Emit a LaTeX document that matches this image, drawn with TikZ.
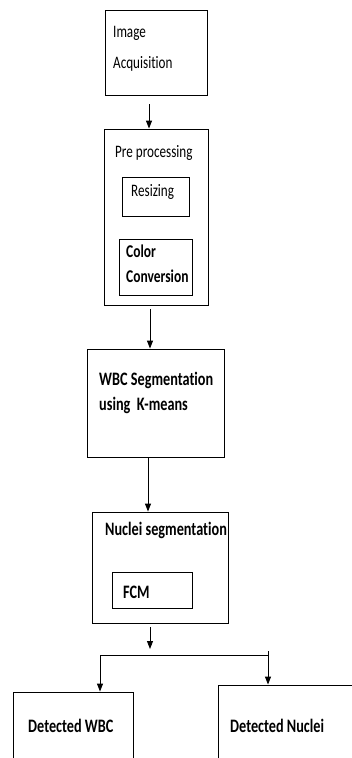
\documentclass[tikz,border=0pt]{standalone}
\usepackage{fontspec}
\setmainfont{Carlito}[FakeStretch=0.75, Ligatures=NoCommon]
\usetikzlibrary{arrows.meta}
\tikzset{
  box/.style={draw=black, line width=0.9pt, inner sep=0pt},
  lbl/.style={anchor=base west, inner sep=0pt},
  arr/.style={line width=0.9pt, -{Triangle[length=8pt,width=6pt]}},
  ln/.style={line width=0.9pt}
}
\newcommand{\rbox}[5]{\node[box, minimum width={#4-#2}, minimum height={#5-#3}] (#1) at ({(#2+#4)/2},{(#3+#5)/2}) {};}
\begin{document}
\begin{tikzpicture}[x=1pt,y=-1pt]
\useasboundingbox (0,0) rectangle (352,758);
\clip (0,0) rectangle (352,758);
% boxes
\rbox{acq}{105}{10}{207}{95}
\rbox{pre}{104}{129}{208}{305}
\rbox{res}{122}{177}{189}{216}
\rbox{col}{119}{239}{192}{295}
\rbox{wbc}{87}{349}{224}{457}
\rbox{nuc}{92}{512}{228}{623}
\rbox{fcm}{112}{572}{192}{608}
\rbox{dw}{13}{692}{133}{790}
\rbox{dn}{218}{685}{370}{790}
% texts
\node[lbl, font=\fontsize{17.5}{20}\selectfont] (t1) at (113,37) {Image};
\node[lbl, font=\fontsize{17.5}{20}\selectfont] (t2) at (113,68) {Acquisition};
\node[lbl, font=\fontsize{17.5}{20}\selectfont] (t3) at (115,157) {Pre processing};
\node[lbl, font=\fontsize{17.5}{20}\selectfont] (t4) at (131,196) {Resizing};
\node[lbl, font=\bfseries\fontsize{18}{20}\selectfont] (t5) at (126,257) {Color};
\node[lbl, font=\bfseries\fontsize{18}{20}\selectfont] (t6) at (126,282) {Conversion};
\node[lbl, font=\bfseries\fontsize{19}{22}\selectfont] (t7) at (99,385) {WBC Segmentation};
\node[lbl, font=\bfseries\fontsize{19}{22}\selectfont] (t8) at (99,410) {using\ \ K-means};
\node[lbl, font=\bfseries\fontsize{19}{22}\selectfont] (t9) at (105,535) {Nuclei segmentation};
\node[lbl, font=\bfseries\fontsize{19}{22}\selectfont] (t10) at (123,598) {FCM};
\node[lbl, font=\bfseries\fontsize{19}{22}\selectfont] (t11) at (28,732) {Detected WBC};
\node[lbl, font=\bfseries\fontsize{19}{22}\selectfont] (t12) at (230,732) {Detected Nuclei};
% connectors
\coordinate (c1) at (149,104);
\coordinate (c2) at (150,309);
\coordinate (c3) at (148,457);
\coordinate (c4) at (150,627);
\coordinate (c5) at (150,649);
\coordinate (bl) at (100,655);
\coordinate (br) at (268,651);
\draw[arr] (c1) -- (c1 |- pre.north);
\draw[arr] (c2) -- (c2 |- wbc.north);
\draw[arr] (c3) -- (c3 |- nuc.north);
\draw[arr] (c4) -- (c5);
\draw[ln] (bl) -- (bl -| br);
\draw[arr] (bl) -- (bl |- dw.north);
\draw[arr] (br) -- (br |- dn.north);
\end{tikzpicture}
\end{document}
